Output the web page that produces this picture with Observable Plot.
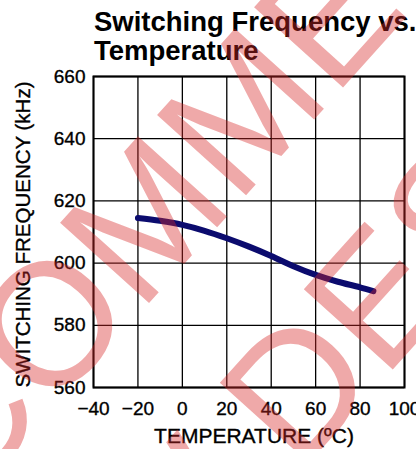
<!DOCTYPE html>
<html>
<head>
<meta charset="utf-8">
<script src="https://cdn.jsdelivr.net/npm/d3@7"></script>
<script src="https://cdn.jsdelivr.net/npm/@observablehq/plot@0.6"></script>
<style>
  html, body { margin: 0; padding: 0; background: #fff; }
  #wrap { position: relative; width: 416px; height: 449px; overflow: hidden; }
  #title { position: absolute; left: 94px; top: 7px; font-family: "Liberation Sans", Arial, sans-serif; font-weight: bold; font-size: 27.5px; line-height: 29px; color: #000; white-space: nowrap; }
  #wm { position: absolute; left: 0; top: 0; pointer-events: none; }
  #chart svg text { stroke: #000; stroke-width: 0.35px; }
</style>
</head>
<body>
<div id="wrap"><div id="chart"></div><div id="title">Switching Frequency vs.<br>Temperature</div></div>
<script>
// Data
const temperatures = [-20, -10, 0, 10, 20, 30, 40, 50, 60, 70, 80, 86];
const frequencies = [614.5, 613.6, 612.3, 610.4, 608.0, 605.3, 602.3, 599.0, 596.2, 594.0, 592.2, 591.0];
const xTicks = [-40, -20, 0, 20, 40, 60, 80, 100];
const yTicks = [560, 580, 600, 620, 640, 660];
const xLabel = "TEMPERATURE (ºC)";
const yLabel = "SWITCHING FREQUENCY (kHz)";
const watermarkLines = ["NOT RECOMMENDED", "FOR NEW DESIGNS"];

const data = temperatures.map((t, i) => ({t, f: frequencies[i]}));

const chart = Plot.plot({
  width: 416,
  height: 449,
  marginLeft: 93,
  marginRight: 12,
  marginTop: 76,
  marginBottom: 62,
  style: {fontFamily: "'Liberation Sans', Arial, sans-serif", fontSize: "19px", color: "#000", background: "#fff", overflow: "visible"},
  x: {domain: [-40, 100], ticks: xTicks, label: null},
  y: {domain: [560, 660], ticks: yTicks, label: null},
  marks: [
    Plot.gridX(xTicks, {stroke: "#000", strokeOpacity: 1, strokeWidth: 1.3}),
    Plot.gridY(yTicks, {stroke: "#000", strokeOpacity: 1, strokeWidth: 1.3}),
    Plot.frame({stroke: "#000", strokeWidth: 2}),
    Plot.axisX(xTicks, {tickSize: 0, tickPadding: 14, label: null, fontSize: 19}),
    Plot.axisY(yTicks, {tickSize: 0, tickPadding: 8, label: null, fontSize: 19}),
    Plot.line(data, {x: "t", y: "f", stroke: "#0b0b6e", strokeWidth: 6, curve: "monotone-x"}),
    Plot.text([xLabel], {text: d => d, frameAnchor: "bottom", dx: 5, dy: 55, fontSize: 21}),
    Plot.text([yLabel], {text: d => d, frameAnchor: "bottom-left", dx: -64, rotate: -90, textAnchor: "start", fontSize: 20.5})
  ]
});
document.getElementById("chart").appendChild(chart);

// Watermark overlay
const wm = d3.select("#wrap").append("svg").attr("id", "wm").attr("width", 416).attr("height", 449);
const fs = 174;
function placeWatermark(str, idx, cx, cy, angle) {
  const t = wm.append("text").text(str)
    .attr("font-family", "'Liberation Sans', Arial, sans-serif")
    .attr("font-size", fs)
    .attr("fill", "rgba(215,40,40,0.4)");
  const node = t.node();
  const start = idx > 0 ? node.getSubStringLength(0, idx) : 0;
  const w = node.getSubStringLength(idx, 1);
  t.attr("transform", `translate(${cx},${cy}) rotate(${angle}) translate(${-(start + w / 2)},${0.716 * fs / 2})`);
}
placeWatermark(watermarkLines[0], 7, 48, 322, -48);
placeWatermark(watermarkLines[1], 8, 295, 385, -48);
</script>
</body>
</html>
